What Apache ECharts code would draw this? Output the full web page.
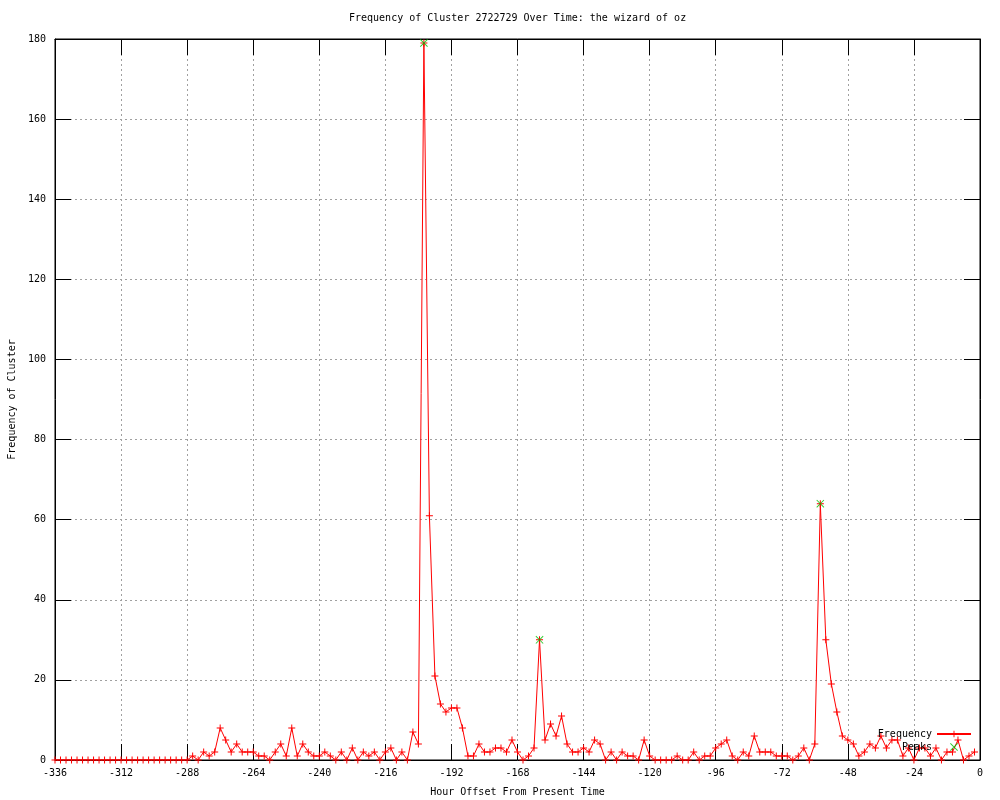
<!DOCTYPE html>
<html>
<head>
<meta charset="utf-8">
<script src="https://cdn.jsdelivr.net/npm/echarts@6/dist/echarts.min.js"></script>
<style>
html,body{margin:0;padding:0;background:#fff;}
#chart{width:1000px;height:800px;}
</style>
</head>
<body>
<div id="chart"></div>
<script>
const titleText = "Frequency of Cluster 2722729 Over Time: the wizard of oz";
const xAxisName = "Hour Offset From Present Time";
const yAxisName = "Frequency of Cluster";

const hours = [
-336,-334,-332,-330,-328,-326,-324,-322,-320,-318,-316,-314,-312,-310,-308,-306,-304,-302,-300,-298,-296,-294,-292,-290,-288,
-286,-284,-282,-280,-278,-276,-274,-272,-270,-268,-266,-264,-262,-260,-258,-256,-254,-252,-250,-248,-246,-244,-242,-240,
-238,-236,-234,-232,-230,-228,-226,-224,-222,-220,-218,-216,-214,-212,-210,-208,-206,-204,-202,-200,-198,-196,-194,-192,
-190,-188,-186,-184,-182,-180,-178,-176,-174,-172,-170,-168,-166,-164,-162,-160,-158,-156,-154,-152,-150,-148,-146,-144,
-142,-140,-138,-136,-134,-132,-130,-128,-126,-124,-122,-120,-118,-116,-114,-112,-110,-108,-106,-104,-102,-100,-98,-96,
-94,-92,-90,-88,-86,-84,-82,-80,-78,-76,-74,-72,-70,-68,-66,-64,-62,-60,-58,-56,-54,-52,-50,-48,-46,-44,-42,-40,
-38,-36,-34,-32,-30,-28,-26,-24,-22,-20,-18,-16,-14,-12,-10,-8,-6,-4,-2
];
const frequency = [
0,0,0,0,0,0,0,0,0,0,0,0,0,0,0,0,0,0,0,0,0,0,0,0,0,
1,0,2,1,2,8,5,2,4,2,2,2,1,1,0,2,4,1,8,1,4,2,1,1,
2,1,0,2,0,3,0,2,1,2,0,2,3,0,2,0,7,4,179,61,21,14,12,13,
13,8,1,1,4,2,2,3,3,2,5,2,0,1,3,30,5,9,6,11,4,2,2,3,
2,5,4,0,2,0,2,1,1,0,5,1,0,0,0,0,1,0,0,2,0,1,1,3,
4,5,1,0,2,1,6,2,2,2,1,1,1,0,1,3,0,4,64,30,19,12,6,5,4,1,2,4,
3,6,3,5,5,1,3,0,3,3,1,3,0,2,2,5,0,1,2
];
const peakHours = [-202, -160, -58];
const peakValues = [179, 30, 64];

const xTicks = {min: -336, max: 0, interval: 24};
const yTicks = {min: 0, max: 180, interval: 20};

const freqData = hours.map((h, i) => [h, frequency[i]]);
const peakData = peakHours.map((h, i) => [h, peakValues[i]]);

const mono = "DejaVu Sans Mono";
const plusPath = 'path://M3,0H4V7H3ZM0,3H7V4H0Z';
const crossPath = 'path://M0.7,0L8,7.3L7.3,8L0,0.7ZM7.3,0L8,0.7L0.7,8L0,7.3Z';

const chart = echarts.init(document.getElementById('chart'), null, {renderer: 'canvas'});
const gridLine = {show: true, lineStyle: {color: '#a0a0a0', type: [2, 3], width: 1}};
const tickStyle = {show: true, inside: true, length: 16, lineStyle: {color: '#000', width: 1}};

chart.setOption({
  animation: false,
  backgroundColor: '#fff',
  title: {
    text: titleText, left: 344, top: 8,
    textStyle: {fontFamily: mono, fontSize: 10, fontWeight: 'normal', color: '#000'}
  },
  grid: {left: 55, right: 20, top: 39, bottom: 40, show: true, borderColor: '#000', borderWidth: 1,
         containLabel: false, outerBoundsMode: 'none'},
  legend: {
    orient: 'vertical', right: 23, top: 724, align: 'right',
    itemWidth: 34, itemHeight: 8, itemGap: 3,
    textStyle: {fontFamily: mono, fontSize: 10, color: '#000'},
    data: ['Frequency', 'Peaks']
  },
  xAxis: [
    {
      type: 'value', min: xTicks.min, max: xTicks.max, interval: xTicks.interval, position: 'bottom',
      name: xAxisName, nameLocation: 'middle', nameGap: 27,
      nameTextStyle: {fontFamily: mono, fontSize: 10, color: '#000'},
      axisLine: {show: true, onZero: false, lineStyle: {color: '#000'}},
      axisTick: tickStyle,
      axisLabel: {fontFamily: mono, fontSize: 10, color: '#000', margin: 8},
      splitLine: gridLine
    },
    {
      type: 'value', min: xTicks.min, max: xTicks.max, interval: xTicks.interval, position: 'top',
      axisLine: {show: true, onZero: false, lineStyle: {color: '#000'}},
      axisTick: tickStyle, axisLabel: {show: false}, splitLine: {show: false}
    }
  ],
  yAxis: [
    {
      type: 'value', min: yTicks.min, max: yTicks.max, interval: yTicks.interval, position: 'left',
      name: yAxisName, nameLocation: 'middle', nameGap: 38, nameRotate: 90,
      nameTextStyle: {fontFamily: mono, fontSize: 10, color: '#000'},
      axisLine: {show: true, onZero: false, lineStyle: {color: '#000'}},
      axisTick: tickStyle,
      axisLabel: {fontFamily: mono, fontSize: 10, color: '#000', margin: 9},
      splitLine: gridLine
    },
    {
      type: 'value', min: yTicks.min, max: yTicks.max, interval: yTicks.interval, position: 'right',
      axisLine: {show: true, onZero: false, lineStyle: {color: '#000'}},
      axisTick: tickStyle, axisLabel: {show: false}, splitLine: {show: false}
    }
  ],
  series: [
    {
      name: 'Frequency', type: 'line', data: freqData,
      xAxisIndex: 0, yAxisIndex: 0,
      symbol: plusPath, symbolSize: 7, showSymbol: true, showAllSymbol: true,
      lineStyle: {color: '#ff0000', width: 1},
      itemStyle: {color: '#ff0000'},
      z: 3
    },
    {
      name: 'Peaks', type: 'scatter', data: peakData,
      xAxisIndex: 0, yAxisIndex: 0,
      symbol: crossPath, symbolSize: 8,
      itemStyle: {color: '#00c000'},
      z: 4
    }
  ]
});
</script>
</body>
</html>
